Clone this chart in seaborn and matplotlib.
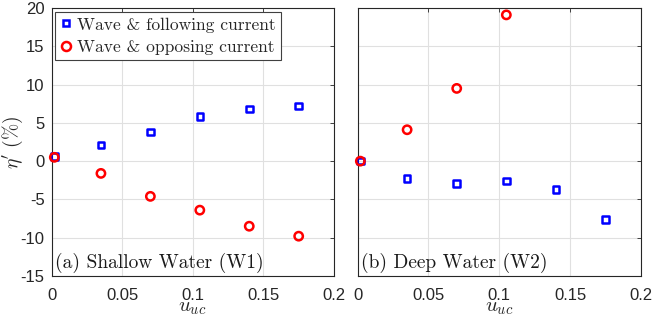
import numpy as np
import pandas as pd
import matplotlib
matplotlib.use("Agg")
import matplotlib.pyplot as plt
import seaborn as sns
from matplotlib.lines import Line2D

sns.set_style("white")
plt.rcParams['font.family'] = ['Liberation Sans', 'DejaVu Sans']
plt.rcParams['mathtext.fontset'] = 'cm'

# Data
x_vals = [0.002, 0.035, 0.07, 0.105, 0.14, 0.175]
shallow_following = [0.6, 2.1, 3.8, 5.8, 6.8, 7.2]
shallow_opposing = [0.5, -1.6, -4.6, -6.4, -8.5, -9.8]
deep_following = [0.0, -2.3, -2.9, -2.6, -3.7, -7.6]
x_deep_opp = [0.002, 0.035, 0.07, 0.105]
deep_opposing = [0.0, 4.1, 9.5, 19.1]

xticks = [0, 0.05, 0.1, 0.15, 0.2]
xticklabels = ['0', '0.05', '0.1', '0.15', '0.2']
yticks = [-15, -10, -5, 0, 5, 10, 15, 20]
panel_titles = ['(a) Shallow Water (W1)', '(b) Deep Water (W2)']
legend_labels = ['Wave & following current', 'Wave & opposing current']

W, H = 6.54, 3.24
fig = plt.figure(figsize=(W, H), dpi=100)
ax1 = fig.add_axes([51.5/654, 1-276/324, 282.5/654, 268/324])
ax2 = fig.add_axes([357.5/654, 1-276/324, 283.5/654, 268/324])

datasets = [
    (ax1, x_vals, shallow_following, x_vals, shallow_opposing),
    (ax2, x_vals, deep_following, x_deep_opp, deep_opposing),
]
for i, (ax, xf, yf, xo, yo) in enumerate(datasets):
    sns.scatterplot(x=xf, y=yf, ax=ax, marker='s', s=22, facecolor='none',
                    edgecolor='#0000ff', linewidth=1.8, zorder=3, clip_on=False)
    sns.scatterplot(x=xo, y=yo, ax=ax, marker='o', s=36, facecolor='none',
                    edgecolor='#ff0000', linewidth=1.8, zorder=4, clip_on=False)
    ax.set_xlim(0, 0.2)
    ax.set_ylim(-15, 20)
    ax.set_xticks(xticks)
    ax.set_xticklabels(xticklabels)
    ax.set_yticks(yticks)
    ax.grid(True, color='#e0e0e0', linewidth=0.8)
    ax.set_axisbelow(True)
    ax.tick_params(direction='in', length=3, width=0.6, top=True, right=True,
                   labelsize=12, colors='#262626', labelcolor='#262626')
    ax.tick_params(axis='x', pad=9)
    ax.tick_params(axis='y', pad=5)
    for sp in ax.spines.values():
        sp.set_color('#262626')
        sp.set_linewidth(0.8)
        sp.set_visible(True)
    ax.set_xlabel(r'$u_{uc}$', fontsize=15, color='#262626')
    ax.xaxis.set_label_coords(0.5, -0.082)
    ax.xaxis.label.set_va('top')
    ax.text(0.0025, -14.6, panel_titles[i], fontsize=14, ha='left', va='bottom',
            color='#1a1a1a', family='cmr10')

ax1.set_yticklabels([str(t) for t in yticks])
ax2.set_yticklabels([])
ax1.set_ylabel(r"$\eta'\ (\%)$", fontsize=14, color='#262626')
ax1.yaxis.set_label_coords(-0.094, 0.5)

handles = [
    Line2D([], [], marker='s', linestyle='', markersize=5, markerfacecolor='none',
           markeredgecolor='#0000ff', markeredgewidth=1.8),
    Line2D([], [], marker='o', linestyle='', markersize=6.5, markerfacecolor='none',
           markeredgecolor='#ff0000', markeredgewidth=1.8),
]
leg = ax1.legend(handles, legend_labels, loc='upper left',
                 bbox_to_anchor=(0.012, 0.985), frameon=True,
                 prop={'family': 'cmr10', 'size': 12.6},
                 fancybox=False, edgecolor='#404040', framealpha=1,
                 handlelength=0.7, handletextpad=0.25, borderpad=0.3,
                 labelspacing=0.4, borderaxespad=0)
leg.get_frame().set_linewidth(0.8)

fig.savefig('out.png', dpi=100)
